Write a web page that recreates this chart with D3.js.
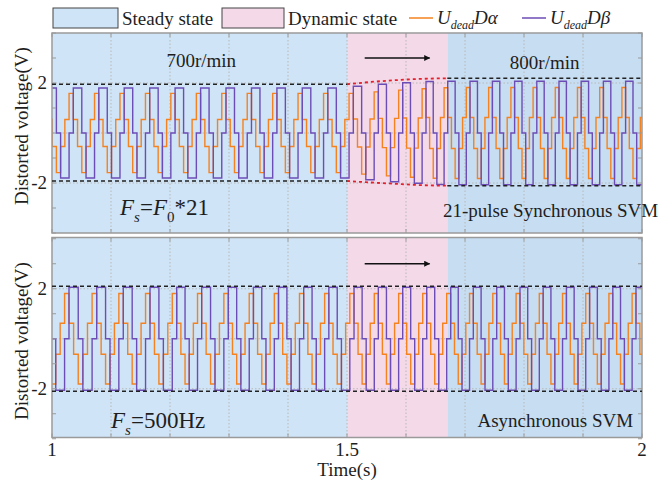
<!DOCTYPE html>
<html>
<head>
<meta charset="utf-8">
<script src="https://cdn.jsdelivr.net/npm/d3@7"></script>
<style>
  body { margin: 0; background: #fff; }
  svg { display: block; }
  text { font-family: "Liberation Serif", "Times New Roman", serif; fill: #1e1e1e; }
</style>
</head>
<body>
<svg id="chart" width="664" height="483"></svg>
<script>
// ---- axes ----
const xTickValues = [1, 1.1, 1.2, 1.3, 1.4, 1.5, 1.6, 1.7, 1.8, 1.9, 2];
const xTickLabels = [1, 1.5, 2];
const yTickValues = [-4, -3, -2, -1, 0, 1, 2, 3, 4];
const yTickLabels = [-2, 2];
const yGridValues = [-2, 0, 2];

// ---- operating states (s) ----
const spanStart = [1, 1.5, 1.67];
const spanEnd   = [1.5, 1.67, 2];
const spanKind  = ["steady", "dynamic", "steadyFast"];

// ---- one electrical period = six 60° sectors ----
// alpha levels as a fraction of the beta peak
const alphaPattern = [0.30, -0.30, -0.88, -0.30, 0.30, 0.88];
const betaPattern  = [1, 1, 0, -1, -1, 0];

// ---- synchronous SVM (top): start of each period (s) and beta peak (V) ----
const topCycleStart = [0.9931, 1.0361, 1.0793, 1.1224, 1.1656, 1.2086, 1.2519, 1.2949,
  1.3381, 1.3812, 1.4242, 1.4675, 1.5107, 1.5531, 1.5944, 1.6339, 1.6707, 1.7085,
  1.7464, 1.7841, 1.8217, 1.8593, 1.8969, 1.9346, 1.9722, 2.0098];
const topPeak = [1.8, 1.8, 1.8, 1.8, 1.8, 1.8, 1.8, 1.8, 1.8, 1.8, 1.8, 1.8,
  1.87, 1.95, 2.01, 2.06, 2.07, 2.07, 2.07, 2.07, 2.07, 2.07, 2.07, 2.07, 2.07];

// ---- asynchronous SVM (bottom) ----
const botCycleStart = [0.9839, 1.0288, 1.0758, 1.1208, 1.1661, 1.2114, 1.2537, 1.2988,
  1.3414, 1.3839, 1.4266, 1.4692, 1.5119, 1.5531, 1.5944, 1.6351, 1.6758, 1.7141,
  1.7537, 1.7932, 1.8325, 1.8719, 1.9112, 1.9505, 1.9898, 2.0292];
const botPeak = [2.06, 2.06, 2.06, 2.06, 2.06, 2.06, 2.06, 2.06, 2.06, 2.06, 2.06, 2.06,
  2.06, 2.06, 2.06, 2.06, 2.06, 2.06, 2.06, 2.06, 2.06, 2.06, 2.06, 2.06, 2.06];

// ---- amplitude bounds ----
const topBound700 = [1.95, -1.92];
const topBound800 = [2.19, -2.11];
const envT     = [1.5, 1.54, 1.58, 1.62, 1.67];
const envUpper = [1.95, 2.04, 2.11, 2.16, 2.19];
const envLower = [-1.92, -1.98, -2.03, -2.08, -2.11];
const botBound = [2.1, -2.1];

const colors = {
  steady: "#cfe4f6", dynamic: "#f4d9e9", steadyFast: "#c6ddf2",
  alpha: "#f5821f", beta: "#6c4db6", frame: "#9a9a9a", grid: "#b8b8b8"
};

const svg = d3.select("#chart");
const x = d3.scaleLinear().domain([1, 2]).range([52, 642]);

const panels = [
  { top: 33, bottom: 233, domain: [-4, 4], starts: topCycleStart, peaks: topPeak, id: "p0" },
  { top: 237.5, bottom: 437.5, domain: [-3.95, 4.05], starts: botCycleStart, peaks: botPeak, id: "p1" }
];
panels.forEach(p => { p.y = d3.scaleLinear().domain(p.domain).range([p.bottom, p.top]); });

function buildSteps(starts, peaks) {
  const pts = [];
  for (let i = 0; i < peaks.length; i++) {
    const t0 = starts[i], t1 = starts[i + 1];
    for (let k = 0; k < 6; k++) {
      pts.push({ t: t0 + (t1 - t0) * k / 6, a: alphaPattern[k] * peaks[i], b: betaPattern[k] * peaks[i] });
    }
  }
  const last = pts[pts.length - 1];
  pts.push({ t: starts[peaks.length], a: last.a, b: last.b });
  return pts;
}

const defs = svg.append("defs");
defs.append("marker").attr("id", "arrow").attr("viewBox", "0 0 10 10")
  .attr("refX", 9).attr("refY", 5).attr("markerWidth", 9).attr("markerHeight", 6)
  .attr("markerUnits", "userSpaceOnUse").attr("orient", "auto")
  .append("path").attr("d", "M0,0 L10,5 L0,10 Z").attr("fill", "#111");

panels.forEach(p => {
  const y = p.y;
  defs.append("clipPath").attr("id", "clip-" + p.id)
    .append("rect").attr("x", x(1)).attr("y", p.top).attr("width", x(2) - x(1)).attr("height", p.bottom - p.top);
  const g = svg.append("g");
  const inner = g.append("g").attr("clip-path", "url(#clip-" + p.id + ")");

  // state backgrounds
  inner.selectAll("rect.state").data(spanKind).join("rect")
    .attr("x", (d, i) => x(spanStart[i])).attr("width", (d, i) => x(spanEnd[i]) - x(spanStart[i]))
    .attr("y", p.top).attr("height", p.bottom - p.top).attr("fill", d => colors[d]);

  // grid
  inner.selectAll("line.vg").data(xTickValues.slice(1, -1)).join("line")
    .attr("x1", d => x(d)).attr("x2", d => x(d)).attr("y1", p.top).attr("y2", p.bottom)
    .attr("stroke", colors.grid).attr("stroke-width", 1).attr("stroke-dasharray", "1.5,2");
  inner.selectAll("line.hg").data(yGridValues).join("line")
    .attr("x1", x(1)).attr("x2", x(2)).attr("y1", d => y(d)).attr("y2", d => y(d))
    .attr("stroke", colors.grid).attr("stroke-width", 1).attr("stroke-dasharray", "1.5,2");

  // waveforms
  const pts = buildSteps(p.starts, p.peaks);
  const lineA = d3.line().x(d => x(d.t)).y(d => y(d.a)).curve(d3.curveStepAfter);
  const lineB = d3.line().x(d => x(d.t)).y(d => y(d.b)).curve(d3.curveStepAfter);
  inner.append("path").attr("d", lineA(pts)).attr("fill", "none")
    .attr("stroke", colors.alpha).attr("stroke-width", 1.4);
  inner.append("path").attr("d", lineB(pts)).attr("fill", "none")
    .attr("stroke", colors.beta).attr("stroke-width", 1.4);

  // frame and inward ticks
  g.append("rect").attr("x", x(1)).attr("y", p.top).attr("width", x(2) - x(1)).attr("height", p.bottom - p.top)
    .attr("fill", "none").attr("stroke", colors.frame).attr("stroke-width", 1.5);
  const tk = 4;
  g.selectAll("line.yl").data(yTickValues).join("line")
    .attr("x1", x(1)).attr("x2", x(1) + tk).attr("y1", d => y(d)).attr("y2", d => y(d))
    .attr("stroke", colors.frame);
  g.selectAll("line.yr").data(yTickValues).join("line")
    .attr("x1", x(2)).attr("x2", x(2) - tk).attr("y1", d => y(d)).attr("y2", d => y(d))
    .attr("stroke", colors.frame);
  g.selectAll("line.xt").data(xTickValues).join("line")
    .attr("x1", d => x(d)).attr("x2", d => x(d)).attr("y1", p.top).attr("y2", p.top + tk)
    .attr("stroke", colors.frame);
  g.selectAll("line.xb").data(xTickValues).join("line")
    .attr("x1", d => x(d)).attr("x2", d => x(d)).attr("y1", p.bottom).attr("y2", p.bottom - tk)
    .attr("stroke", colors.frame);

  // y tick labels
  g.selectAll("text.yl").data(yTickLabels).join("text")
    .attr("x", x(1) - 5).attr("y", d => y(d) + 6).attr("text-anchor", "end")
    .attr("font-size", 19).text(d => d < 0 ? "-" + Math.abs(d) : String(d));

  // y axis title
  const midY = p.id === "p0" ? 126 : 341;
  g.append("text").attr("transform", `translate(28,${midY}) rotate(-90)`)
    .attr("text-anchor", "middle").attr("font-size", 19).text("Distorted voltage(V)");

  // direction arrow
  g.append("line").attr("x1", x(1.53)).attr("x2", x(1.64)).attr("y1", y(3)).attr("y2", y(3))
    .attr("stroke", "#111").attr("stroke-width", 1.3).attr("marker-end", "url(#arrow)");
});

// amplitude bounds
const pTop = panels[0], pBot = panels[1];
const dashed = (g, x1, x2, yv, ysc, color, dash, w) =>
  g.append("line").attr("x1", x(x1)).attr("x2", x(x2)).attr("y1", ysc(yv)).attr("y2", ysc(yv))
    .attr("stroke", color).attr("stroke-width", w).attr("stroke-dasharray", dash);
const bounds = svg.append("g");
topBound700.forEach(v => dashed(bounds, 1, 1.5, v, pTop.y, "#222", "4,3", 1.5));
topBound800.forEach(v => dashed(bounds, 1.67, 2, v, pTop.y, "#222", "4,3", 1.5));
botBound.forEach(v => dashed(bounds, 1, 2, v, pBot.y, "#222", "4,3", 1.5));
const envLine = d3.line().x(d => x(d[0])).y(d => pTop.y(d[1])).curve(d3.curveMonotoneX);
[envUpper, envLower].forEach(arr => {
  bounds.append("path").attr("d", envLine(envT.map((t, i) => [t, arr[i]])))
    .attr("fill", "none").attr("stroke", "#e5202a").attr("stroke-width", 1.8).attr("stroke-dasharray", "3,3");
});

// panel annotations
const ann = svg.append("g").attr("font-size", 19);
ann.append("text").attr("x", x(1.253)).attr("y", 67).attr("text-anchor", "middle").text("700r/min");
ann.append("text").attr("x", x(1.835)).attr("y", 69).attr("text-anchor", "middle").text("800r/min");
ann.append("text").attr("x", x(1.845)).attr("y", 217).attr("text-anchor", "middle").text("21-pulse Synchronous SVM");
ann.append("text").attr("x", x(1.853)).attr("y", 427).attr("text-anchor", "middle").text("Asynchronous SVM");

function formula(xp, yp, parts) {
  const t = svg.append("text").attr("x", xp).attr("y", yp).attr("font-size", 23);
  parts.forEach(([s, opt]) => {
    const ts = t.append("tspan").text(s);
    if (opt.italic) ts.attr("font-style", "italic");
    if (opt.size) ts.attr("font-size", opt.size);
    if (opt.dy) ts.attr("dy", opt.dy);
    if (opt.dx) ts.attr("dx", opt.dx);
  });
}
formula(120, 215, [["F", { italic: true }], ["s", { italic: true, size: 15, dy: 7 }],
  ["=", { dy: -7 }], ["F", { italic: true }], ["0", { size: 15, dy: 7 }], ["*21", { dy: -7 }]]);
formula(111, 428, [["F", { italic: true }], ["s", { italic: true, size: 15, dy: 7 }],
  ["=500Hz", { dy: -7 }]]);

// x tick labels and title
svg.selectAll("text.xl").data(xTickLabels).join("text")
  .attr("x", d => x(d)).attr("y", 456).attr("text-anchor", "middle").attr("font-size", 19)
  .text(d => String(d));
svg.append("text").attr("x", x(1.5)).attr("y", 476).attr("text-anchor", "middle")
  .attr("font-size", 19).text("Time(s)");

// legend
const lg = svg.append("g").attr("font-size", 19);
lg.append("rect").attr("x", 53).attr("y", 8).attr("width", 65).attr("height", 20)
  .attr("fill", colors.steady).attr("stroke", "#444").attr("stroke-width", 1);
lg.append("text").attr("x", 122).attr("y", 25).text("Steady state");
lg.append("rect").attr("x", 222).attr("y", 8).attr("width", 62).attr("height", 20)
  .attr("fill", colors.dynamic).attr("stroke", "#444").attr("stroke-width", 1);
lg.append("text").attr("x", 288).attr("y", 25).text("Dynamic state");
const legendSeries = [[409, colors.alpha, "α"], [522, colors.beta, "β"]];
legendSeries.forEach(([lx, c, sym]) => {
  lg.append("line").attr("x1", lx).attr("x2", lx + 24).attr("y1", 18).attr("y2", 18)
    .attr("stroke", c).attr("stroke-width", 1.5);
  const t = lg.append("text").attr("x", lx + 28).attr("y", 24).attr("font-style", "italic");
  t.append("tspan").text("U");
  t.append("tspan").attr("font-size", 12).attr("dy", 5).text("dead");
  t.append("tspan").attr("dy", -5).text("D" + sym);
});
</script>
</body>
</html>
